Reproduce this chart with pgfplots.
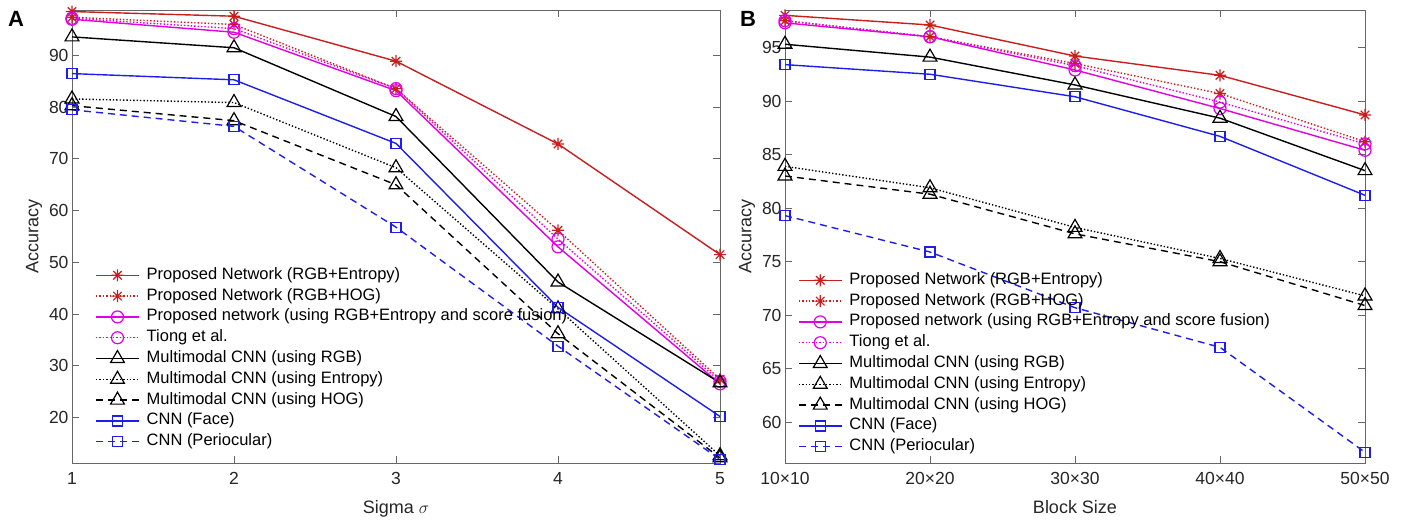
\documentclass[border=0pt]{standalone}
\usepackage{fontspec}
\setmainfont{Liberation Sans}
\usepackage{pgfplots}
\pgfplotsset{compat=1.18}

\definecolor{pred}{RGB}{200,30,30}
\definecolor{pmag}{RGB}{225,0,225}
\definecolor{pblue}{RGB}{30,30,235}

\pgfdeclareplotmark{ast8}{%
  \pgfpathmoveto{\pgfqpoint{0pt}{\pgfplotmarksize}}\pgfpathlineto{\pgfqpoint{0pt}{-\pgfplotmarksize}}%
  \pgfpathmoveto{\pgfqpoint{\pgfplotmarksize}{0pt}}\pgfpathlineto{\pgfqpoint{-\pgfplotmarksize}{0pt}}%
  \pgfpathmoveto{\pgfqpoint{0.707\pgfplotmarksize}{0.707\pgfplotmarksize}}\pgfpathlineto{\pgfqpoint{-0.707\pgfplotmarksize}{-0.707\pgfplotmarksize}}%
  \pgfpathmoveto{\pgfqpoint{0.707\pgfplotmarksize}{-0.707\pgfplotmarksize}}\pgfpathlineto{\pgfqpoint{-0.707\pgfplotmarksize}{0.707\pgfplotmarksize}}%
  \pgfusepathqstroke}

\pgfplotsset{
  sA/.style={pred, line width=1.4pt, solid, mark=ast8, mark size=6pt, mark options={solid, line width=1.2pt}},
  sB/.style={pred, line width=1.4pt, dotted, mark=ast8, mark size=6pt, mark options={solid, line width=1.2pt}},
  sC/.style={pmag, line width=1.4pt, solid, mark=o, mark size=6pt, mark options={solid, line width=1.2pt}},
  sD/.style={pmag, line width=1.4pt, dotted, mark=o, mark size=6pt, mark options={solid, line width=1.2pt}},
  sE/.style={black, line width=1.4pt, solid, mark=triangle, mark size=8pt, mark options={solid, line width=1.2pt}},
  sF/.style={black, line width=1.4pt, dotted, mark=triangle, mark size=8pt, mark options={solid, line width=1.2pt}},
  sG/.style={black, line width=1.4pt, dash pattern=on 7pt off 5pt, mark=triangle, mark size=8pt, mark options={solid, line width=1.2pt}},
  sH/.style={pblue, line width=1.4pt, solid, mark=square, mark size=5pt, mark options={solid, line width=1.2pt}},
  sI/.style={pblue, line width=1.4pt, dash pattern=on 7pt off 5pt, mark=square, mark size=5pt, mark options={solid, line width=1.2pt}},
  common/.style={
    scale only axis, height=453pt,
    axis line style={black!60, line width=0.9pt},
    tick align=inside, tick pos=both, major tick length=7pt,
    every tick/.style={black!60, line width=0.9pt},
    ticklabel style={font=\fontsize{17.5}{17.5}\selectfont, text=black!85},
    xticklabel style={yshift=-6pt},
    /pgf/number format/assume math mode=true,
    label style={font=\fontsize{18}{18}\selectfont, text=black!85},
    xlabel style={yshift=-9pt},
    legend cell align=left,
    legend style={draw=none, fill=none, anchor=north west,
      font=\fontsize{16.5}{17}\selectfont,
      nodes={inner sep=1pt, text height=12pt, text depth=4pt},
      row sep=2.8pt,
      /tikz/every odd column/.append style={column sep=6pt}},
    legend image code/.code={
      \draw[mark repeat=2,mark phase=2] plot coordinates {(0pt,0pt) (21.5pt,0pt) (43pt,0pt)};
    },
  },
}

\begin{document}
\begin{tikzpicture}
\path[use as bounding box] (0,0) rectangle (1406pt,523pt);

\begin{axis}[common,
  at={(72pt,60pt)}, anchor=south west, width=648pt,
  xmin=1, xmax=5, ymin=11.2, ymax=98.8,
  xtick={1,2,3,4,5}, ytick={20,30,...,90},
  xlabel={Sigma $\sigma$}, ylabel={Accuracy},
  legend style={at={(0.031,0.439)}},
]
\addplot[sA] coordinates {(1,98.5) (2,97.6) (3,88.9) (4,72.9) (5,51.5)};
\addplot[sB] coordinates {(1,97.4) (2,96.0) (3,83.6) (4,56.2) (5,27.4)};
\addplot[sC] coordinates {(1,97.0) (2,94.5) (3,83.2) (4,53.0) (5,26.5)};
\addplot[sD] coordinates {(1,97.2) (2,95.2) (3,83.6) (4,54.5) (5,27.0)};
\addplot[sE] coordinates {(1,93.6) (2,91.5) (3,78.2) (4,46.2) (5,26.7)};
\addplot[sF] coordinates {(1,81.6) (2,80.9) (3,68.3) (4,41.0) (5,12.6)};
\addplot[sG] coordinates {(1,80.3) (2,77.4) (3,65.0) (4,36.2) (5,12.2)};
\addplot[sH] coordinates {(1,86.5) (2,85.3) (3,73.0) (4,41.3) (5,20.2)};
\addplot[sI] coordinates {(1,79.5) (2,76.3) (3,56.8) (4,33.8) (5,11.9)};
\legend{Proposed Network (RGB+Entropy),Proposed Network (RGB+HOG),Proposed network (using RGB+Entropy and score fusion),Tiong et al.,Multimodal CNN (using RGB),Multimodal CNN (using Entropy),Multimodal CNN (using HOG),CNN (Face),CNN (Periocular)}
\end{axis}

\begin{axis}[common,
  at={(785pt,60pt)}, anchor=south west, width=580pt,
  xmin=10, xmax=50, ymin=56.2, ymax=98.5,
  xtick={10,20,30,40,50},
  xticklabels={10×10,20×20,30×30,40×40,50×50},
  ytick={60,65,...,95},
  xlabel={Block Size}, ylabel={Accuracy},
  legend style={at={(0.017,0.428)}},
]
\addplot[sA] coordinates {(10,98.0) (20,97.1) (30,94.2) (40,92.4) (50,88.7)};
\addplot[sB] coordinates {(10,97.5) (20,96.0) (30,93.5) (40,90.7) (50,86.2)};
\addplot[sC] coordinates {(10,97.3) (20,96.0) (30,92.9) (40,89.3) (50,85.4)};
\addplot[sD] coordinates {(10,97.5) (20,96.0) (30,93.3) (40,89.9) (50,86.0)};
\addplot[sE] coordinates {(10,95.3) (20,94.1) (30,91.5) (40,88.4) (50,83.5)};
\addplot[sF] coordinates {(10,83.9) (20,81.9) (30,78.2) (40,75.3) (50,71.8)};
\addplot[sG] coordinates {(10,83.0) (20,81.3) (30,77.6) (40,75.0) (50,70.9)};
\addplot[sH] coordinates {(10,93.4) (20,92.5) (30,90.4) (40,86.7) (50,81.2)};
\addplot[sI] coordinates {(10,79.3) (20,75.9) (30,70.7) (40,67.0) (50,57.2)};
\legend{Proposed Network (RGB+Entropy),Proposed Network (RGB+HOG),Proposed network (using RGB+Entropy and score fusion),Tiong et al.,Multimodal CNN (using RGB),Multimodal CNN (using Entropy),Multimodal CNN (using HOG),CNN (Face),CNN (Periocular)}
\end{axis}

\node[font=\bfseries\fontsize{22}{22}\selectfont, anchor=center] at (16pt,504pt) {A};
\node[font=\bfseries\fontsize{22}{22}\selectfont, anchor=center] at (748pt,504pt) {B};
\end{tikzpicture}
\end{document}
